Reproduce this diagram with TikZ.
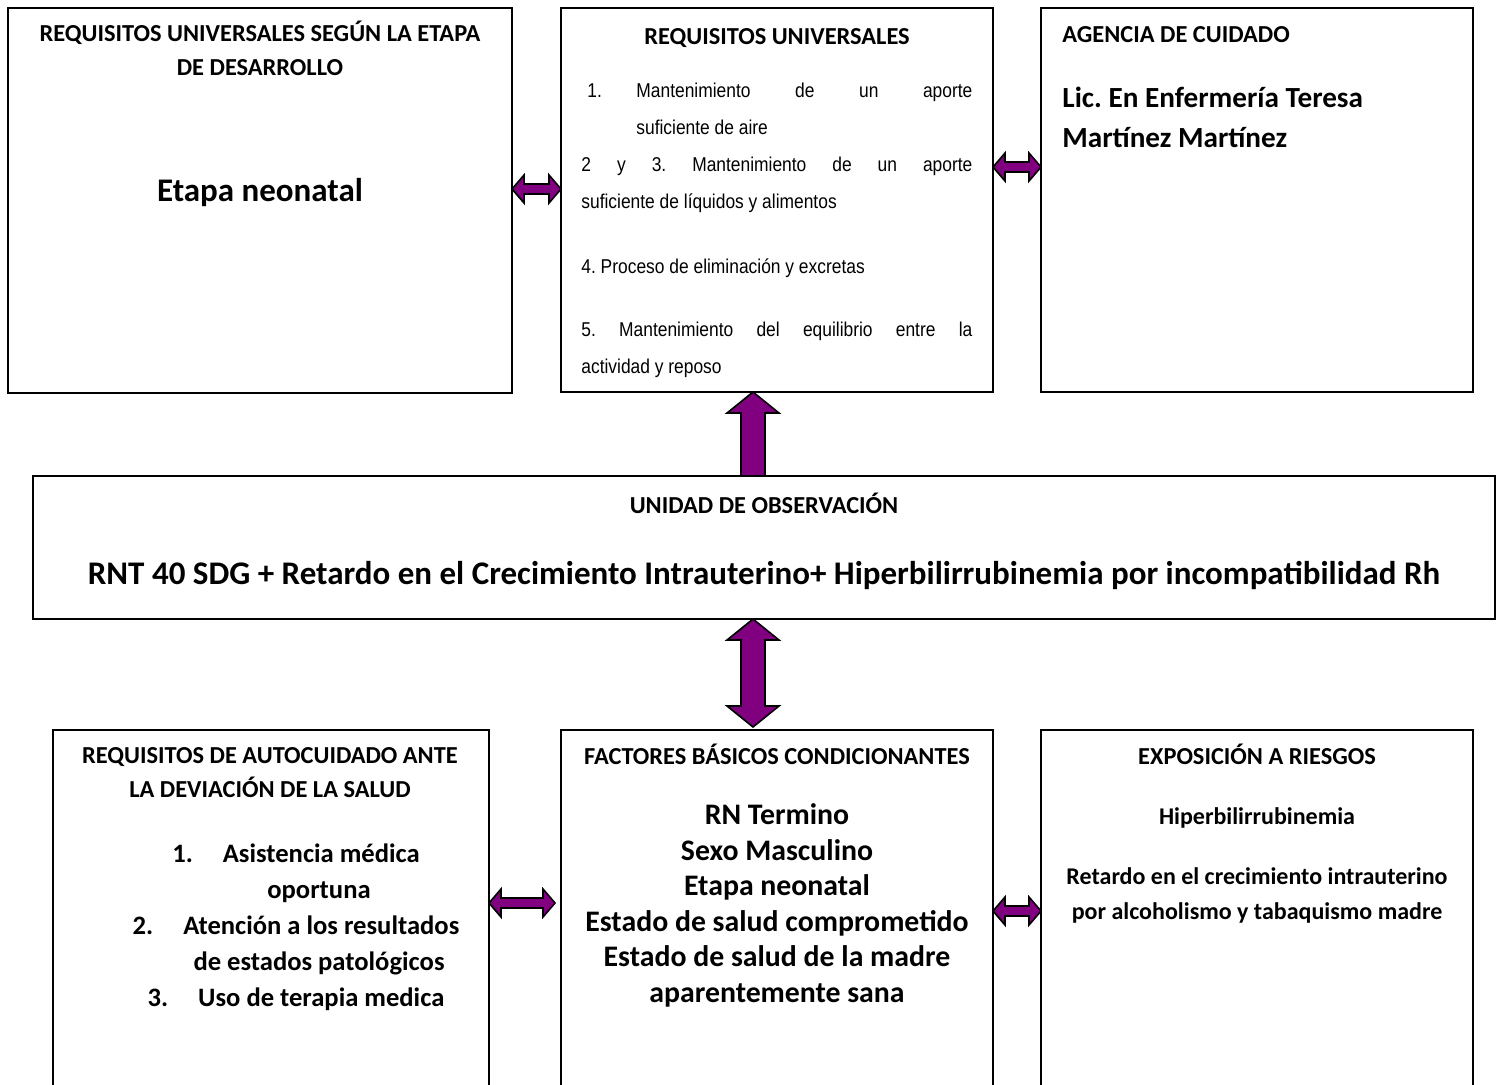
\documentclass[tikz,border=0pt]{standalone}
\usepackage{fontspec}
\setmainfont{Carlito}
\newfontfamily\arialfont[FakeStretch=0.87]{Liberation Sans}
\usetikzlibrary{calc}
\definecolor{arrowpurple}{HTML}{800080}
\frenchspacing

% fat purple arrows (sizes in px units of the picture)
\newcommand{\hdarrow}[2]{\draw[blockarrow] (#1) -- ++(12,-14) -- ++(0,9) -- ($(#2)+(-12,-5)$) -- ++(0,-9) -- (#2) -- ++(-12,14) -- ++(0,-9) -- ($(#1)+(12,5)$) -- ++(0,9) -- cycle;}
\newcommand{\vuarrow}[2]{\draw[blockarrow] (#1) -- ++(26,21) -- ++(-14,0) -- ($(#2)+(12,0)$) -- ($(#2)+(-12,0)$) -- ($(#1)+(-12,21)$) -- ++(-14,0) -- cycle;}
\newcommand{\vdarrow}[2]{\draw[blockarrow] (#1) -- ++(26,21) -- ++(-14,0) -- ($(#2)+(12,-21)$) -- ++(14,0) -- (#2) -- ++(-26,-21) -- ++(14,0) -- ($(#1)+(-12,21)$) -- ++(-14,0) -- cycle;}

\begin{document}
\begin{tikzpicture}[x=0.5pt, y=-0.5pt,
    box/.style={draw, line width=1pt, inner sep=0pt, outer sep=0pt},
    txt/.style={inner sep=0pt},
    head/.style={txt, font=\bfseries\fontsize{12.2}{17}\selectfont, align=center},
    big/.style={txt, font=\bfseries\fontsize{16.5}{18}\selectfont},
    lic/.style={txt, font=\bfseries\fontsize{14.6}{20}\selectfont, align=left},
    item/.style={txt, font=\bfseries\fontsize{13.3}{18}\selectfont, align=center},
    fact/.style={txt, font=\bfseries\fontsize{14.9}{17.75}\selectfont, align=center},
    risk/.style={txt, font=\bfseries\fontsize{12}{17.5}\selectfont, align=center},
    arial/.style={txt, font=\arialfont\fontsize{10}{18.5}\selectfont, align=left},
    blockarrow/.style={draw=black, fill=arrowpurple, line width=0.8pt, line join=miter}]

    \useasboundingbox (0,0) rectangle (1502,1084);
    \fill[white] (0,0) rectangle (1502,1084);

    % boxes
    \node[box, minimum width=252pt, minimum height=192.5pt] (etapa) at (260,200.5) {};
    \node[box, minimum width=216pt, minimum height=192pt] (univ) at (777,200) {};
    \node[box, minimum width=216pt, minimum height=192pt] (agencia) at (1257,200) {};
    \node[box, minimum width=731pt, minimum height=71.5pt] (obs) at (764,547.5) {};
    \node[box, minimum width=218pt, minimum height=190pt] (auto) at (271,920) {};
    \node[box, minimum width=216pt, minimum height=190pt] (fact) at (777,920) {};
    \node[box, minimum width=216pt, minimum height=190pt] (riesgo) at (1257,920) {};

    % top row
    \node[head, anchor=base] (etapahead) at (260,75) {REQUISITOS UNIVERSALES SEGÚN LA ETAPA\\DE DESARROLLO};
    \node[big, anchor=base] (etapatxt) at (260,201) {Etapa neonatal};

    \node[head, anchor=base] (univhead) at (777,44) {REQUISITOS UNIVERSALES};
    \node[arial, anchor=base west] (u1num) at (587,97) {1.};
    \node[arial, anchor=base west] (u1) at (636,134) {\makebox[168pt][s]{Mantenimiento de un aporte}\\suficiente de aire};
    \node[arial, anchor=base west] (u23) at (581,208) {\makebox[195.5pt][s]{2 y 3. Mantenimiento de un aporte}\\suficiente de líquidos y alimentos};
    \node[arial, anchor=base west] (u4) at (581,273) {4. Proceso de eliminación y excretas};
    \node[arial, anchor=base west] (u5) at (581,373) {\makebox[195.5pt][s]{5. Mantenimiento del equilibrio entre la}\\actividad y reposo};

    \node[head, anchor=base west] (agenhead) at (1062,42) {AGENCIA DE CUIDADO};
    \node[lic, anchor=base west] (agentxt) at (1062,147) {Lic. En Enfermería Teresa\\Martínez Martínez};

    % middle
    \node[head, anchor=base] (obshead) at (764,513) {UNIDAD DE OBSERVACIÓN};
    \node[big, anchor=base] (obstxt) at (764,584) {RNT 40 SDG + Retardo en el Crecimiento Intrauterino+ Hiperbilirrubinemia por incompatibilidad Rh};

    % bottom row
    \node[head, anchor=base] (autohead) at (270,797) {REQUISITOS DE AUTOCUIDADO ANTE\\LA DEVIACIÓN DE LA SALUD};
    \node[item, anchor=base] (autolist) at (296,1006) {1.\hspace{15pt}Asistencia médica\\\hspace*{23pt}oportuna\\2.\hspace{15pt}Atención a los resultados\\\hspace*{23pt}de estados patológicos\\3.\hspace{15pt}Uso de terapia medica};

    \node[head, anchor=base] (facthead) at (777,764) {FACTORES BÁSICOS CONDICIONANTES};
    \node[fact, anchor=base] (facttxt) at (777,1002) {RN Termino\\Sexo Masculino\\Etapa neonatal\\Estado de salud comprometido\\Estado de salud de la madre\\aparentemente sana};

    \node[head, anchor=base] (riskhead) at (1257,764) {EXPOSICIÓN A RIESGOS};
    \node[risk, anchor=base] (risk1) at (1257,824) {Hiperbilirrubinemia};
    \node[risk, anchor=base] (risk2) at (1257,919) {Retardo en el crecimiento intrauterino\\por alcoholismo y tabaquismo madre};

    % arrows
    \coordinate (ab1) at (etapa.east |- 0,189);
    \coordinate (ab2) at (univ.west |- 0,189);
    \hdarrow{ab1}{ab2}
    \coordinate (bc1) at (univ.east |- 0,167);
    \coordinate (bc2) at (agencia.west |- 0,167);
    \hdarrow{bc1}{bc2}
    \coordinate (upT) at (753,0 |- univ.south);
    \coordinate (upB) at (753,0 |- obs.north);
    \vuarrow{upT}{upB}
    \coordinate (dvT) at (753,0 |- obs.south);
    \coordinate (dvB) at ($(753,0 |- fact.north)+(0,-3)$);
    \vdarrow{dvT}{dvB}
    \coordinate (lm1) at (auto.east |- 0,903);
    \coordinate (lm2) at ($(fact.west |- 0,903)+(-6,0)$);
    \hdarrow{lm1}{lm2}
    \coordinate (mr1) at (fact.east |- 0,911);
    \coordinate (mr2) at (riesgo.west |- 0,911);
    \hdarrow{mr1}{mr2}
\end{tikzpicture}
\end{document}
